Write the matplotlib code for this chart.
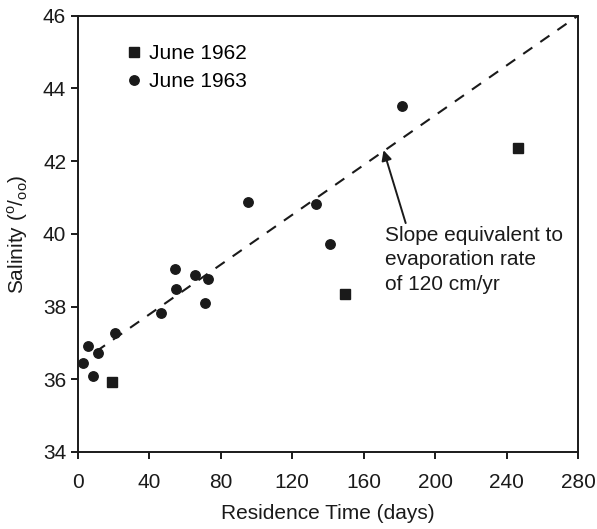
import matplotlib
matplotlib.use("Agg")
import matplotlib.pyplot as plt

plt.rcParams['font.family'] = ['Liberation Sans', 'DejaVu Sans']
plt.rcParams['mathtext.fontset'] = 'custom'
plt.rcParams['mathtext.rm'] = 'Liberation Sans'
plt.rcParams['lines.scale_dashes'] = False

# June 1962 samples (squares)
days_1962 = [19.0, 149.3, 246.6]
sal_1962 = [35.93, 38.34, 42.37]

# June 1963 samples (circles)
days_1963 = [2.8, 5.6, 8.4, 11.2, 20.9, 46.3, 55.1, 54.5, 65.7, 72.8,
             70.9, 95.2, 133.4, 141.3, 181.4]
sal_1963 = [36.46, 36.92, 36.10, 36.71, 37.28, 37.81, 38.49, 39.02, 38.87,
            38.75, 38.09, 40.88, 40.81, 39.71, 43.52]

# evaporation trend line end points
trend_x = [10, 280]
trend_y = [36.76, 46.0]

ink = '#1a1a1a'
fs = 15

fig = plt.figure(figsize=(5.97, 5.29), dpi=100)
ax = fig.add_axes([0.1307, 0.1456, 0.8375, 0.8247])

ax.plot(trend_x, trend_y, color=ink, lw=1.5, ls=(0, (8, 7)), zorder=2)
ax.plot(days_1962, sal_1962, ls='none', marker='s', ms=6.5, color=ink,
        label='June 1962', zorder=3)
ax.plot(days_1963, sal_1963, ls='none', marker='o', ms=6.8, color=ink,
        label='June 1963', zorder=3)

ax.annotate('Slope equivalent to\nevaporation rate\nof 120 cm/yr',
            xy=(171.1, 42.30), xytext=(172, 40.22),
            ha='left', va='top', fontsize=fs, color=ink, linespacing=1.36,
            arrowprops=dict(arrowstyle='-|>', color=ink, lw=1.4,
                            mutation_scale=15, shrinkA=0, shrinkB=0,
                            relpos=(0.12, 1.0)))

ax.set_xlim(0, 280)
ax.set_ylim(34, 46)
ax.set_xticks(range(0, 281, 40))
ax.set_yticks(range(34, 47, 2))

for side in ['left', 'bottom', 'right', 'top']:
    ax.spines[side].set_linewidth(1.4)
    ax.spines[side].set_color(ink)

ax.tick_params(direction='out', length=5, width=1.4, color=ink,
               labelsize=fs, labelcolor=ink)
ax.tick_params(axis='x', pad=10)
ax.tick_params(axis='y', pad=3.5)

ax.set_xlabel('Residence Time (days)', fontsize=fs, color=ink, labelpad=9)
ax.set_ylabel(r'Salinity ($^{\mathrm{o}}$/$_{\mathrm{oo}}$)', fontsize=fs,
              color=ink, labelpad=9)

ax.legend(loc='upper left', bbox_to_anchor=(0.098, 0.935), frameon=False,
          fontsize=fs, handlelength=0.7, handletextpad=0.35,
          labelspacing=0.45, borderaxespad=0, borderpad=0, numpoints=1)

fig.savefig('out.png', dpi=100)
